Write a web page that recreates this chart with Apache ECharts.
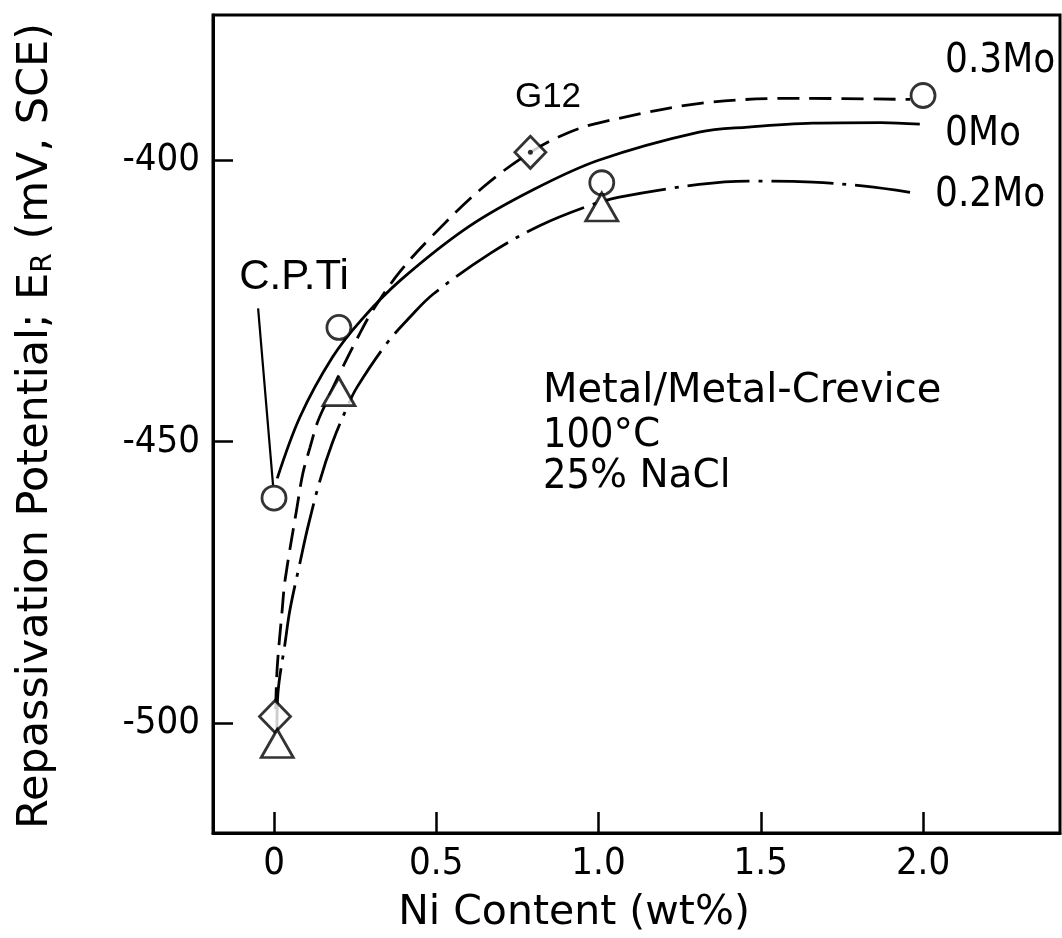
<!DOCTYPE html>
<html><head><meta charset="utf-8">
<script src="https://cdn.jsdelivr.net/npm/echarts@6/dist/echarts.min.js"></script>
<style>html,body{margin:0;padding:0;background:#fff}#c{width:1062px;height:938px}</style>
</head><body><div id="c"></div>
<script>
// ---- data ----
const xTicks = [0, 0.5, 1.0, 1.5, 2.0];
const xTickLabels = ['0', '0.5', '1.0', '1.5', '2.0'];
const yTicks = [-500, -450, -400];
const yTickLabels = ['-500', '-450', '-400'];

const curve0Mo = [[0.01,-456.5],[0.08,-445.6],[0.18,-435.0],[0.27,-428.3],[0.39,-421.3],[0.6,-411.8],[0.8,-405.2],[1.0,-400.0],[1.31,-395.0],[1.46,-394.1],[1.66,-393.4],[1.87,-393.3],[1.99,-393.6]];
const curve03Mo = [[0.005,-497.5],[0.01,-490],[0.025,-480],[0.034,-474.6],[0.071,-461.6],[0.089,-455.6],[0.111,-451.0],[0.133,-446.7],[0.157,-443.5],[0.197,-438.5],[0.265,-430.7],[0.305,-426.6],[0.388,-419.8],[0.49,-413.3],[0.644,-404.8],[0.79,-398.6],[0.903,-395.2],[1.005,-393.3],[1.313,-389.9],[1.621,-389.0],[1.96,-389.2]];
const curve02Mo = [[0.009,-501.2],[0.012,-494.7],[0.034,-485.8],[0.049,-479.9],[0.08,-471.5],[0.105,-465.0],[0.142,-456.8],[0.179,-450.3],[0.225,-443.9],[0.256,-440.3],[0.348,-432.5],[0.42,-427.8],[0.49,-423.8],[0.67,-416.4],[0.82,-411.6],[0.96,-408.3],[1.06,-406.6],[1.31,-404.3],[1.46,-403.7],[1.66,-403.9],[1.82,-404.6],[1.96,-405.7]];

const circlePts = [[0,-460],[0.2,-429.7],[1.01,-404],[2.0,-388.5]];
const diamondPts = [[0.003,-498.8],[0.79,-398.6]];
const g12Dot = [[0.79,-398.6]];
const trianglePts = [[0.01,-503.6],[0.2,-441.1],[1.01,-408.3]];
const leaderLine = [[-0.049,-426.3],[-0.003,-457.7]];

const seriesNames = ['0.3Mo', '0Mo', '0.2Mo'];

// ---- chart ----
const chart = echarts.init(document.getElementById('c'), null, {renderer: 'canvas'});
const INK = '#000';
const narrow = "'Liberation Sans Narrow', 'DejaVu Sans Condensed', sans-serif";
const sans = "'DejaVu Sans', sans-serif";
const helv = "'Liberation Sans', sans-serif";

function lineSeries(name, data, type) {
  return {
    name, type: 'line', data, smooth: 0.35, showSymbol: false, symbol: 'none',
    lineStyle: {color: INK, width: 2.8, type: type},
    z: 3, silent: true
  };
}
function markerSeries(name, data, symbol, size) {
  return {
    name, type: 'scatter', data, symbol, symbolSize: size,
    itemStyle: {color: '#fff', borderColor: INK, borderWidth: 2.8},
    z: 5, silent: true
  };
}

chart.setOption({
  animation: false,
  backgroundColor: '#fff',
  grid: {left: 213, top: 15, right: 2, bottom: 105, show: true, borderColor: INK, borderWidth: 3, backgroundColor: 'transparent'},
  xAxis: {
    type: 'value', min: -0.188, max: 2.422,
    splitLine: {show: false},
    axisLine: {show: true, onZero: false, lineStyle: {color: INK, width: 3}},
    axisTick: {show: true, inside: true, length: 21, customValues: xTicks, lineStyle: {color: INK, width: 2.5}},
    axisLabel: {customValues: xTicks, margin: 12, color: INK, fontFamily: narrow, fontSize: 38,
      formatter: v => xTickLabels[xTicks.findIndex(t => Math.abs(t - v) < 1e-6)]}
  },
  yAxis: {
    type: 'value', min: -519.5, max: -374.2,
    splitLine: {show: false},
    axisLine: {show: true, onZero: false, lineStyle: {color: INK, width: 3}},
    axisTick: {show: true, inside: true, length: 20, customValues: yTicks, lineStyle: {color: INK, width: 2.5}},
    axisLabel: {customValues: yTicks, margin: 13, color: INK, fontFamily: narrow, fontSize: 38,
      formatter: v => yTickLabels[yTicks.findIndex(t => Math.abs(t - v) < 1e-6)]}
  },
  series: [
    lineSeries(seriesNames[1], curve0Mo, 'solid'),
    lineSeries(seriesNames[0], curve03Mo, [22, 10]),
    lineSeries(seriesNames[2], curve02Mo, [62, 9, 4, 9]),
    {name: 'C.P.Ti leader', type: 'line', data: leaderLine, showSymbol: false, symbol: 'none',
      lineStyle: {color: INK, width: 2.2}, z: 3, silent: true},
    markerSeries('circles', circlePts, 'circle', 24),
    markerSeries('diamonds', diamondPts, 'diamond', [31, 32]),
    markerSeries('triangles', trianglePts, 'triangle', [32, 28]),
    {name: 'G12 dot', type: 'scatter', data: g12Dot, symbol: 'circle', symbolSize: 5,
      itemStyle: {color: INK}, z: 6, silent: true}
  ],
  graphic: [
    {type: 'text', x: 36, y: 426, rotation: Math.PI / 2,
      style: {text: '{a|Repassivation Potential; E}{s|R}{a| (mV, SCE)}', align: 'center', verticalAlign: 'middle',
        rich: {a: {fontFamily: sans, fontSize: 43, fill: INK}, s: {fontFamily: sans, fontSize: 28, fill: INK, verticalAlign: 'bottom'}}}},
    {type: 'text', x: 574, y: 913,
      style: {text: 'Ni Content (wt%)', align: 'center', verticalAlign: 'middle', fontFamily: sans, fontSize: 41, fill: INK}},
    {type: 'text', x: 294, y: 277,
      style: {text: 'C.P.Ti', align: 'center', verticalAlign: 'middle', fontFamily: helv, fontSize: 42, fill: INK}},
    {type: 'text', x: 548, y: 97,
      style: {text: 'G12', align: 'center', verticalAlign: 'middle', fontFamily: helv, fontSize: 35, fill: INK}},
    {type: 'text', x: 945, y: 62,
      style: {text: seriesNames[0], align: 'left', verticalAlign: 'middle', fontFamily: narrow, fontSize: 40, fill: INK}},
    {type: 'text', x: 945, y: 135,
      style: {text: seriesNames[1], align: 'left', verticalAlign: 'middle', fontFamily: narrow, fontSize: 40, fill: INK}},
    {type: 'text', x: 935, y: 196,
      style: {text: seriesNames[2], align: 'left', verticalAlign: 'middle', fontFamily: narrow, fontSize: 40, fill: INK}},
    {type: 'text', x: 543, y: 392,
      style: {text: 'Metal/Metal-Crevice', align: 'left', verticalAlign: 'middle', fontFamily: sans, fontSize: 40, fill: INK}},
    {type: 'text', x: 543, y: 436,
      style: {text: '{n|100}{a|°C}', align: 'left', verticalAlign: 'middle',
        rich: {n: {fontFamily: narrow, fontSize: 41, fill: INK}, a: {fontFamily: sans, fontSize: 39, fill: INK}}}},
    {type: 'text', x: 543, y: 477,
      style: {text: '{n|25}{a|% NaCl}', align: 'left', verticalAlign: 'middle',
        rich: {n: {fontFamily: narrow, fontSize: 41, fill: INK}, a: {fontFamily: sans, fontSize: 39, fill: INK}}}}
  ]
});
</script>
</body></html>
